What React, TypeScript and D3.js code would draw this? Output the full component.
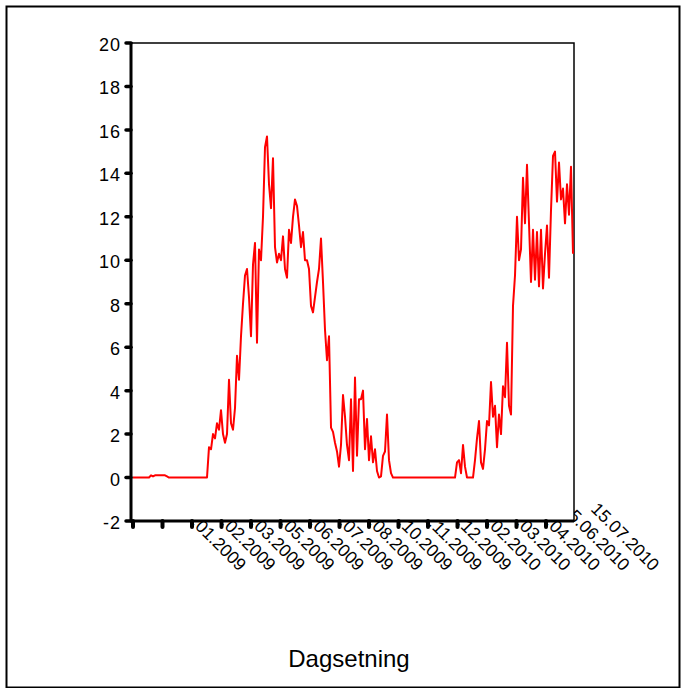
import React from "react";
import * as d3 from "d3";

// Daily level readings, one value per observation (in order)
const seriesValues: number[] = [
  // early period, near zero
  0, 0, 0, 0, 0, 0, 0, 0, 0,
  0.1, 0.05, 0.1, 0.1, 0.1, 0.1, 0.1, 0.1, 0.05,
  0, 0, 0, 0, 0, 0, 0, 0, 0, 0,
  0, 0, 0, 0, 0, 0, 0, 0, 0, 0,
  // first season
  1.4, 1.3, 2.0, 1.8, 2.5, 2.2, 3.1, 2.0, 1.6, 2.0,
  4.5, 2.5, 2.2, 3.2, 5.6, 4.5, 6.5, 8.0, 9.3, 9.6,
  8.3, 6.5, 9.8, 10.8, 6.2, 10.5, 10.0, 12.0, 15.2, 15.7,
  13.5, 12.4, 14.7, 10.6, 9.9, 10.3, 10.0, 11.1, 9.6, 9.2,
  11.4, 10.8, 12.0, 12.8, 12.5, 11.6, 10.6, 11.3, 10.0, 10.0,
  9.6, 7.9, 7.6, 8.3, 9.0, 9.6, 11.0, 9.0, 6.8, 5.4,
  6.5, 2.3, 2.1, 1.6, 1.2, 0.5, 1.5, 3.8, 2.8, 1.5,
  0.8, 3.6, 0.3, 4.6, 1.0, 3.6, 3.6, 4.0, 1.3, 2.7,
  0.8, 1.9, 0.7, 1.3, 0.3, 0, 0.05, 1.0, 1.2, 2.9,
  0.8, 0.2, 0,
  // winter, zero
  0, 0, 0, 0, 0, 0, 0, 0, 0, 0,
  0, 0, 0, 0, 0, 0, 0, 0, 0, 0,
  0, 0, 0, 0, 0, 0, 0, 0, 0, 0,
  0,
  // second season
  0.7, 0.8, 0.2, 1.5, 0.5, 0, 0, 0, 0, 0.8,
  1.8, 2.6, 0.7, 0.4, 1.3, 2.6, 2.4, 4.4, 2.8, 3.3,
  1.4, 2.9, 2.0, 4.2, 3.7, 6.2, 3.3, 2.9, 7.9, 9.3,
  12.0, 10.0, 10.5, 13.8, 11.7, 14.4, 11.7, 9.0, 11.4, 9.1,
  11.3, 8.8, 11.4, 8.7, 10.3, 11.6, 9.2, 12.3, 14.8, 15.0,
  12.7, 14.5, 12.8, 13.3, 11.7, 13.5, 12.1, 14.3, 10.3,
];

const yTickValues: number[] = [-2, 0, 2, 4, 6, 8, 10, 12, 14, 16, 18, 20];

const xTickLabels: string[] = [
  "15.01.2009", "15.02.2009", "15.03.2009", "15.05.2009", "15.06.2009",
  "15.07.2009", "15.08.2009", "15.10.2009", "15.11.2009", "15.12.2009",
  "15.02.2010", "15.03.2010", "15.04.2010", "15.06.2010", "15.07.2010",
];

const axisTitle = "Dagsetning";

// observations between two category ticks
const OBS_PER_TICK = 14.75;

const W = 681;
const H = 688;
const P = { left: 131, right: 574, top: 43, bottom: 521 };
const FONT = "Arial, 'Liberation Sans', sans-serif";

export default function App() {
  const x = d3
    .scaleLinear()
    .domain([0, seriesValues.length - 1])
    .range([P.left + 2, P.right - 1]);
  const y = d3.scaleLinear().domain([-2, 20]).range([P.bottom, P.top]);

  const linePath =
    d3
      .line<number>()
      .x((_, i) => x(i))
      .y((d) => y(d))(seriesValues) ?? "";

  const xTicks = xTickLabels.map((label, k) => ({ label, pos: x(k * OBS_PER_TICK) }));

  return (
    <div style={{ position: "absolute", left: 0, top: 0 }}>
      <svg width={W} height={H} style={{ display: "block", background: "#fff" }}>
        <rect x={0} y={0} width={W} height={H} fill="#fff" />
        {/* outer frame */}
        <rect x={6.5} y={6.5} width={673} height={681} fill="none" stroke="#000" strokeWidth={2} />

        {/* rotated category labels (their heads tuck under the plot area) */}
        <g fontFamily={FONT} fontSize={17.5} fill="#000">
          {xTicks.map((t, k) => (
            <text
              key={k}
              transform={`translate(${t.pos + 106},572) rotate(45)`}
              textAnchor="end"
            >
              {t.label}
            </text>
          ))}
        </g>

        {/* plot area */}
        <rect
          x={P.left}
          y={P.top}
          width={P.right - P.left}
          height={P.bottom - P.top}
          fill="#fff"
          stroke="#000"
          strokeWidth={1.5}
        />

        {/* data line */}
        <path d={linePath} fill="none" stroke="#ff0000" strokeWidth={2} strokeLinejoin="round" />

        {/* axes */}
        <line x1={P.left} x2={P.left} y1={P.top - 1} y2={P.bottom + 1} stroke="#000" strokeWidth={3} />
        <line x1={P.left - 1} x2={P.right} y1={P.bottom} y2={P.bottom} stroke="#000" strokeWidth={3} />

        {/* y ticks and labels */}
        <g fontFamily={FONT} fontSize={18} fill="#000">
          {yTickValues.map((v) => (
            <g key={v}>
              <line
                x1={126}
                x2={P.left}
                y1={y(v)}
                y2={y(v)}
                stroke="#000"
                strokeWidth={3.5}
                strokeLinecap="round"
              />
              <text x={121} y={y(v) + 8} textAnchor="end" letterSpacing={1}>
                {v}
              </text>
            </g>
          ))}
        </g>

        {/* x ticks */}
        {xTicks.map((t, k) => (
          <line
            key={k}
            x1={t.pos}
            x2={t.pos}
            y1={P.bottom}
            y2={P.bottom + 6}
            stroke="#000"
            strokeWidth={4}
            strokeLinecap="round"
          />
        ))}

        <text x={349} y={667} textAnchor="middle" fontFamily={FONT} fontSize={24} fill="#000">
          {axisTitle}
        </text>
      </svg>
    </div>
  );
}
